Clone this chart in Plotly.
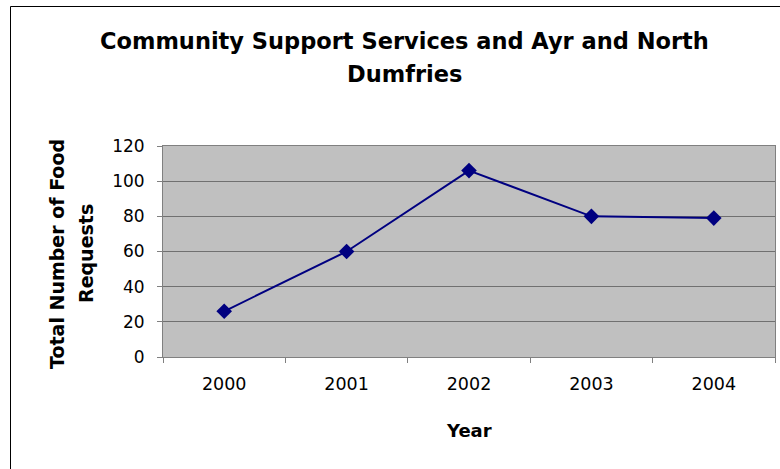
import plotly.graph_objects as go

# Annual food request totals
years = ["2000", "2001", "2002", "2003", "2004"]
requests = [26, 60, 106, 80, 79]

y_ticks = [0, 20, 40, 60, 80, 100, 120]

title_lines = ["Community Support Services and Ayr and North", "Dumfries"]
x_title = "Year"
y_title_lines = ["Total Number of Food", "Requests"]

FONT = "DejaVu Sans, Arial, sans-serif"
AXIS_GRAY = "#808080"

W, H = 780, 469
ML, MR, MT, MB = 163, 5, 146, 112
PW, PH = W - ML - MR, H - MT - MB


def px_x(x):
    """Pixel column -> paper x."""
    return (x - ML) / PW


def px_y(y):
    """Pixel row -> paper y."""
    return (H - MB - y) / PH


fig = go.Figure()
fig.add_trace(go.Scatter(
    x=years,
    y=requests,
    mode="lines+markers",
    line=dict(color="#000080", width=2),
    marker=dict(symbol="diamond", size=12, color="#000080"),
    showlegend=False,
    hoverinfo="skip",
))

fig.update_layout(
    width=W,
    height=H,
    margin=dict(l=ML, r=MR, t=MT, b=MB),
    paper_bgcolor="white",
    plot_bgcolor="#C0C0C0",
    font=dict(family=FONT, size=17, color="black"),
)

fig.update_xaxes(
    type="category",
    range=[-0.5, 4.5],
    tickson="boundaries",
    ticks="outside",
    ticklen=5,
    tickcolor=AXIS_GRAY,
    ticklabelstandoff=11,
    tickfont=dict(size=17.5),
    showgrid=False,
    showline=True,
    linecolor=AXIS_GRAY,
    linewidth=1,
    mirror=True,
    zeroline=False,
)

fig.update_yaxes(
    range=[0, 120],
    tickvals=y_ticks,
    ticks="outside",
    ticklen=5,
    tickcolor=AXIS_GRAY,
    ticklabelstandoff=9,
    tickfont=dict(size=17),
    showgrid=True,
    gridcolor="#707070",
    gridwidth=1,
    showline=True,
    linecolor=AXIS_GRAY,
    linewidth=1,
    mirror=True,
    zeroline=False,
)

# Chart title, two lines
for line, yc in zip(title_lines, [41, 74]):
    fig.add_annotation(
        text=f"<b>{line}</b>",
        xref="paper", yref="paper",
        x=px_x(404), y=px_y(yc),
        xanchor="center", yanchor="middle",
        showarrow=False,
        font=dict(family=FONT, size=22.5),
    )

# X axis title
fig.add_annotation(
    text=f"<b>{x_title}</b>",
    xref="paper", yref="paper",
    x=px_x(469), y=px_y(430),
    xanchor="center", yanchor="middle",
    showarrow=False,
    font=dict(family=FONT, size=18),
)

# Y axis title, two rotated lines
for line, xc in zip(y_title_lines, [57, 86]):
    fig.add_annotation(
        text=f"<b>{line}</b>",
        xref="paper", yref="paper",
        x=px_x(xc), y=px_y(254),
        xanchor="center", yanchor="middle",
        textangle=-90,
        showarrow=False,
        font=dict(family=FONT, size=19),
    )

# Chart-area border
fig.add_shape(
    type="rect",
    xref="paper", yref="paper",
    x0=px_x(10.5), x1=px_x(900), y0=px_y(600), y1=px_y(6.5),
    line=dict(color="black", width=1),
    fillcolor="rgba(0,0,0,0)",
    layer="below",
)

fig.write_html("out.html")
